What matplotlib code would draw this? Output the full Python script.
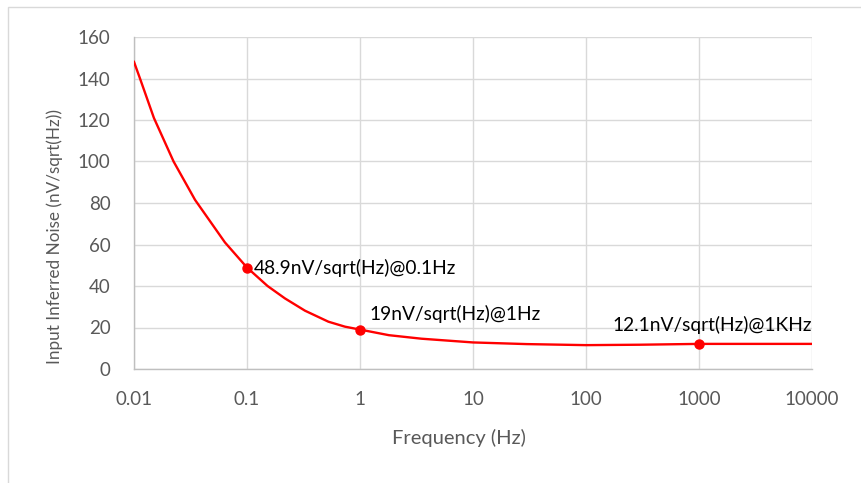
import matplotlib
matplotlib.use("Agg")
import matplotlib.pyplot as plt
from matplotlib.patches import Rectangle
from matplotlib.ticker import FixedLocator, FixedFormatter

plt.rcParams['font.family'] = ['Lato', 'DejaVu Sans']

# curve
freq = [0.01, 0.0113, 0.015, 0.0224, 0.0347, 0.0638, 0.1, 0.152, 0.217, 0.326,
        0.525, 0.736, 1, 1.8, 3.5, 10, 30, 100, 300, 1000, 10000]
noise = [148, 140, 121, 100, 81.5, 61, 48.9, 40, 34.0, 28.1,
         22.8, 20.4, 19, 16.3, 14.6, 12.8, 12.0, 11.5, 11.7, 12.1, 12.1]

mark_freq = [0.1, 1, 1000]
mark_noise = [48.9, 19, 12.1]
mark_text = ["48.9nV/sqrt(Hz)@0.1Hz", "19nV/sqrt(Hz)@1Hz", "12.1nV/sqrt(Hz)@1KHz"]

x_ticks = [0.01, 0.1, 1, 10, 100, 1000, 10000]
x_labels = ["0.01", "0.1", "1", "10", "100", "1000", "10000"]
y_ticks = [0, 20, 40, 60, 80, 100, 120, 140, 160]

fig = plt.figure(figsize=(8.61, 4.83), dpi=100)
fig.patches.append(Rectangle((8 / 861, -0.1), 1.2, 1.1 - 7 / 483, transform=fig.transFigure,
                             fill=False, edgecolor='#d9d9d9', linewidth=1))
ax = fig.add_axes([134 / 861, 1 - 369 / 483, (812 - 134) / 861, (369 - 37) / 483])

ax.plot(freq, noise, color='#ff0000', linewidth=1.7, zorder=3, solid_joinstyle='round')
ax.plot(mark_freq, mark_noise, 'o', color='#ff0000', markersize=6.5, zorder=4)

ax.annotate(mark_text[0], (mark_freq[0], mark_noise[0]), xytext=(5, 0), textcoords='offset points',
            ha='left', va='center', fontsize=13.8, color='black')
ax.annotate(mark_text[1], (mark_freq[1], mark_noise[1]), xytext=(7, 11), textcoords='offset points',
            ha='left', va='center', fontsize=13.8, color='black')
ax.annotate(mark_text[2], (mark_freq[2], mark_noise[2]), xytext=(9.5, 13.5), textcoords='offset points',
            ha='center', va='center', fontsize=13.8, color='black')

ax.set_xscale('log')
ax.set_xlim(0.01, 10000)
ax.set_ylim(0, 160)
ax.xaxis.set_major_locator(FixedLocator(x_ticks))
ax.xaxis.set_major_formatter(FixedFormatter(x_labels))
ax.xaxis.set_minor_locator(FixedLocator([]))
ax.set_yticks(y_ticks)

ax.grid(True, color='#d9d9d9', linewidth=1)
ax.set_axisbelow(True)
for s in ['top', 'right']:
    ax.spines[s].set_visible(False)
for s in ['left', 'bottom']:
    ax.spines[s].set_color('#bfbfbf')
    ax.spines[s].set_linewidth(1)
ax.tick_params(axis='both', length=0, labelsize=13.5, labelcolor='#595959')
ax.tick_params(axis='x', pad=16)
ax.tick_params(axis='y', pad=17)

# axis titles placed where the reference has them
fig.text(459 / 861, 1 - 438 / 483, "Frequency (Hz)", fontsize=14.5, color='#595959',
         ha='center', va='center')
fig.text(55 / 861, 1 - 237 / 483, "Input Inferred Noise (nV/sqrt(Hz))", fontsize=12.3,
         color='#595959', rotation=90, ha='center', va='center')

fig.savefig("out.png", dpi=100)
